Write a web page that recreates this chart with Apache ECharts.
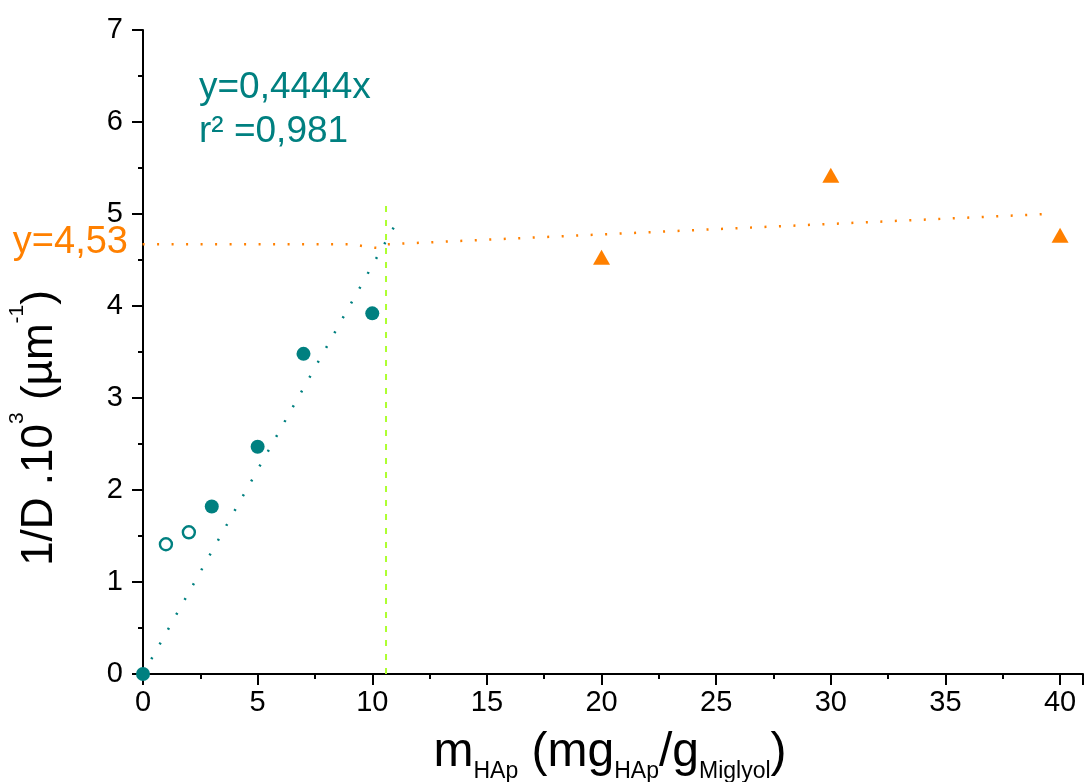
<!DOCTYPE html>
<html>
<head>
<meta charset="utf-8">
<script src="https://cdn.jsdelivr.net/npm/echarts@6/dist/echarts.min.js"></script>
<style>html,body{margin:0;padding:0;background:#fff}#c{width:1086px;height:782px}</style>
</head>
<body>
<div id="c"></div>
<script>
// ---- data ----
const filledPoints = [[0, 0], [3, 1.82], [5, 2.47], [7, 3.48], [10, 3.92]];
const openPoints = [[1, 1.41], [2, 1.54]];
const trianglePoints = [[20, 4.53], [30, 5.42], [40, 4.77]];
const tealFit = [[0, 0], [11.15, 4.95]];
const orangeFit = [[-0.65, 4.67], [9.2, 4.67], [9.8, 4.64], [10.3, 4.63], [10.6, 4.67], [39.4, 5.0]];
const greenLine = [[10.6, 0], [10.6, 5.1]];
const xTicks = [0, 5, 10, 15, 20, 25, 30, 35, 40];
const yTicks = [0, 1, 2, 3, 4, 5, 6, 7];
const fitText = ['y=0,4444x', 'r\u00b2 =0,981'];
const plateauText = 'y=4,53';

const TEAL = '#008080', ORANGE = '#ff8000', GREEN = '#adff2f';
const FONT = "'Liberation Sans', Arial, sans-serif";

const chart = echarts.init(document.getElementById('c'), null, {renderer: 'canvas'});
const axisCommon = {
  axisLine: {show: true, lineStyle: {color: '#000', width: 2}},
  splitLine: {show: false}
};
chart.setOption({
  animation: false,
  backgroundColor: '#fff',
  grid: {left: 143, right: -2, top: 30, bottom: 108, containLabel: false},
  xAxis: [
    Object.assign({}, axisCommon, {
      type: 'value', min: 0, max: 41, interval: 2.5, position: 'bottom',
      axisTick: {show: true, length: 5, lineStyle: {color: '#000', width: 2}},
      axisLabel: {
        color: '#000', fontSize: 29, fontFamily: FONT, margin: 14,
        formatter: v => (xTicks.indexOf(v) >= 0 ? String(v) : '')
      }
    }),
    {
      type: 'value', min: 0, max: 41, interval: 5, position: 'bottom',
      axisLine: {show: false}, splitLine: {show: false},
      axisTick: {show: true, length: 11, lineStyle: {color: '#000', width: 2}},
      axisLabel: {show: false}
    }
  ],
  yAxis: Object.assign({}, axisCommon, {
    type: 'value', min: 0, max: 7, interval: 1,
    axisTick: {show: true, length: 11, lineStyle: {color: '#000', width: 2}},
    minorTick: {show: true, splitNumber: 2, length: 5, lineStyle: {color: '#000', width: 2}},
    axisLabel: {
      color: '#000', fontSize: 29, fontFamily: FONT, margin: 20,
      formatter: v => (yTicks.indexOf(v) >= 0 ? String(v) : '')
    }
  }),
  series: [
    {
      type: 'line', data: orangeFit, showSymbol: false, symbol: 'none', clip: false,
      lineStyle: {color: ORANGE, width: 2.5, type: [2, 12.5]}, z: 3
    },
    {
      type: 'line', data: tealFit, showSymbol: false, symbol: 'none', clip: false,
      lineStyle: {color: TEAL, width: 2.5, type: [2, 15]}, z: 3
    },
    {
      type: 'line', data: greenLine, showSymbol: false, symbol: 'none', clip: false,
      lineStyle: {color: GREEN, width: 2, type: [6, 8]}, z: 3
    },
    {
      type: 'scatter', data: filledPoints, symbol: 'circle', symbolSize: 14, clip: false,
      itemStyle: {color: TEAL, opacity: 1}, z: 5
    },
    {
      type: 'scatter', data: openPoints, symbol: 'circle', symbolSize: 12, clip: false,
      itemStyle: {color: '#fff', borderColor: TEAL, borderWidth: 2.4, opacity: 1}, z: 5
    },
    {
      type: 'scatter', data: trianglePoints, symbol: 'triangle', symbolSize: [17, 15], clip: false,
      itemStyle: {color: ORANGE, opacity: 1}, z: 5
    }
  ],
  graphic: [
    {
      type: 'text', x: 199, y: 88,
      style: {text: fitText[0], fill: TEAL, font: '37px ' + FONT, textAlign: 'left', textVerticalAlign: 'middle'}
    },
    {
      type: 'text', x: 199, y: 132,
      style: {text: fitText[1], fill: TEAL, font: '37px ' + FONT, textAlign: 'left', textVerticalAlign: 'middle'}
    },
    {
      type: 'text', x: 128, y: 243,
      style: {text: plateauText, fill: ORANGE, font: '38px ' + FONT, textAlign: 'right', textVerticalAlign: 'middle'}
    },
    {
      type: 'text', x: 610, y: 753,
      style: {
        text: '{m|m}{s|HAp}{m| (mg}{s|HAp}{m|/g}{s|Miglyol}{m|)}',
        align: 'center', verticalAlign: 'middle',
        rich: {
          m: {fontSize: 48, fontFamily: FONT, fill: '#000', lineHeight: 52},
          s: {fontSize: 23, fontFamily: FONT, fill: '#000', lineHeight: 23, padding: [38, 0, 0, 0]}
        }
      }
    },
    {
      type: 'text', x: 40, y: 428, rotation: Math.PI / 2,
      style: {
        text: '{m|1/D .10}{p|3}{m| (\u00b5m}{p|-1}{m|)}',
        align: 'center', verticalAlign: 'middle',
        rich: {
          m: {fontSize: 44, fontFamily: FONT, fill: '#000', lineHeight: 48},
          p: {fontSize: 21, fontFamily: FONT, fill: '#000', lineHeight: 21, padding: [0, 0, 46, 0]}
        }
      }
    }
  ]
});
</script>
</body>
</html>
